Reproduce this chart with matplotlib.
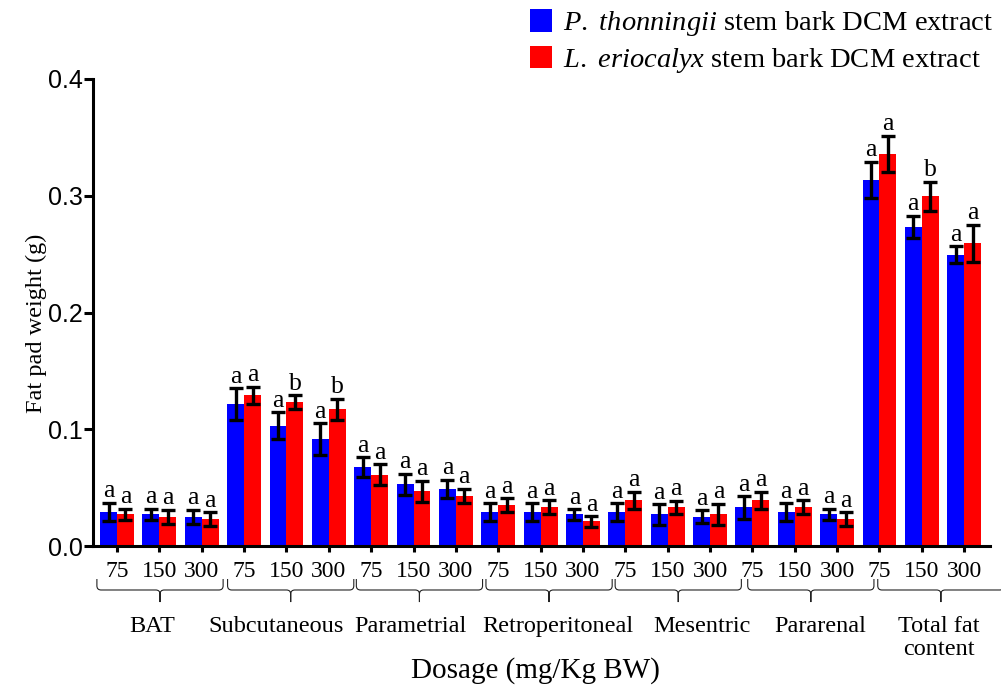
import matplotlib
matplotlib.use("Agg")
import matplotlib.pyplot as plt
import numpy as np
from matplotlib.path import Path
from matplotlib.patches import PathPatch
from matplotlib.transforms import blended_transform_factory

plt.rcParams["font.family"] = "serif"
plt.rcParams["font.serif"] = ["Liberation Serif", "DejaVu Serif"]
plt.rcParams["mathtext.fontset"] = "custom"
plt.rcParams["mathtext.rm"] = "Liberation Serif"
plt.rcParams["mathtext.it"] = "Liberation Serif:italic"

# ---- data -------------------------------------------------------------
tissues = ["BAT", "Subcutaneous", "Parametrial", "Retroperitoneal",
           "Mesentric", "Pararenal", "Total fat\ncontent"]
doses = ["75", "150", "300"]

pt_mean = [0.029, 0.027, 0.025,
           0.1216, 0.103, 0.0914,
           0.0674, 0.053, 0.049,
           0.029, 0.029, 0.027,
           0.029, 0.027, 0.025,
           0.033, 0.029, 0.027,
           0.3135, 0.2735, 0.2495]
pt_err = [0.008, 0.005, 0.006,
          0.0136, 0.0116, 0.0137,
          0.0086, 0.009, 0.0076,
          0.0076, 0.0076, 0.0046,
          0.0076, 0.0086, 0.0057,
          0.0097, 0.0077, 0.0047,
          0.0154, 0.0094, 0.0074]
le_mean = [0.027, 0.025, 0.023,
           0.129, 0.123, 0.117,
           0.061, 0.047, 0.043,
           0.035, 0.033, 0.021,
           0.039, 0.033, 0.027,
           0.039, 0.033, 0.0228,
           0.3358, 0.2995, 0.2593]
le_err = [0.005, 0.006, 0.006,
          0.0075, 0.006, 0.009,
          0.009, 0.009, 0.006,
          0.006, 0.006, 0.0043,
          0.0073, 0.0057, 0.009,
          0.0074, 0.006, 0.006,
          0.0154, 0.0127, 0.016]
pt_letters = ["a"] * 21
le_letters = ["a", "a", "a",
              "a", "b", "b",
              "a", "a", "a",
              "a", "a", "a",
              "a", "a", "a",
              "a", "a", "a",
              "a", "b", "a"]

series_labels = [r"$\mathit{P.}$ $\mathit{thonningii}$ stem bark DCM extract",
                 r"$\mathit{L.}$ $\mathit{eriocalyx}$ stem bark DCM extract"]
series_colors = ["#0000ff", "#ff0000"]

# ---- layout ------------------------------------------------------------
W, H = 1001, 685
fig = plt.figure(figsize=(W / 100, H / 100), dpi=100)
ax = fig.add_axes([93 / W, 1 - 546 / H, (990 - 93) / W, (546 - 79) / H])

x = np.arange(len(pt_mean))
bw = 0.4
b1 = ax.bar(x - bw / 2, pt_mean, bw, color=series_colors[0], linewidth=0,
            label=series_labels[0], zorder=2)
b2 = ax.bar(x + bw / 2, le_mean, bw, color=series_colors[1], linewidth=0,
            label=series_labels[1], zorder=2)
for xs, m, e in ((x - bw / 2, pt_mean, pt_err), (x + bw / 2, le_mean, le_err)):
    ax.errorbar(xs, m, yerr=e, fmt="none", ecolor="black", elinewidth=2.4,
                capsize=5, capthick=2.4, zorder=3)

# significance letters
for xs, m, e, lets in ((x - bw / 2, pt_mean, pt_err, pt_letters),
                       (x + bw / 2, le_mean, le_err, le_letters)):
    for xi, mi, ei, li in zip(xs, m, e, lets):
        ax.annotate(li, xy=(xi, mi + ei), xytext=(0, 4),
                    textcoords="offset points", ha="center", va="baseline",
                    fontsize=18.5)

ax.set_xlim(-0.567, 20.61)
ax.set_ylim(0, 0.4)
ax.set_yticks([0.0, 0.1, 0.2, 0.3, 0.4])
ax.set_yticklabels(["0.0", "0.1", "0.2", "0.3", "0.4"],
                   family="Liberation Sans", fontsize=18)
ax.set_xticks(x)
ax.set_xticklabels(doses * len(tissues), fontsize=17)
ax.tick_params(axis="y", length=6.5, width=2.2, pad=1)
ax.tick_params(axis="x", length=4.5, width=2.2, pad=6)
for s in ("top", "right"):
    ax.spines[s].set_visible(False)
for s in ("left", "bottom"):
    ax.spines[s].set_linewidth(2.2)

# group braces and tissue names below the dose labels
tr = blended_transform_factory(ax.transData, ax.transAxes)
brace_centres = [1.015, 4.10, 7.14, 10.20, 13.25, 16.38, 19.45]
name_centres = [0.82, 3.75, 6.93, 10.4, 13.8, 16.6, 19.4]
hw, rx, ry = 1.49, 0.1, 0.009
y_top, y_mid, y_bot = -0.0707, -0.0942, -0.12
for xc in brace_centres:
    verts, codes = [], []
    for side in (-1, 1):
        xe = xc + side * hw
        verts += [(xe, y_top), (xe, y_mid + ry), (xe, y_mid),
                  (xe - side * rx, y_mid), (xc + side * rx, y_mid),
                  (xc, y_mid), (xc, y_mid - ry), (xc, y_bot)]
        codes += [Path.MOVETO, Path.LINETO, Path.CURVE3, Path.CURVE3,
                  Path.LINETO, Path.CURVE3, Path.CURVE3, Path.LINETO]
    ax.add_patch(PathPatch(Path(verts, codes), transform=tr, fill=False,
                           lw=0.8, edgecolor="#222222", clip_on=False))
for xc, name in zip(name_centres, tissues):
    ax.text(xc, -0.150, name, transform=tr, ha="center", va="top",
            fontsize=17.5, linespacing=1.1)

fig.text(535.5 / W, 7.5 / H, "Dosage (mg/Kg BW)", ha="center",
         va="baseline", fontsize=21)
fig.text(36 / W, 1 - 323.5 / H, "Fat pad weight (g)", rotation=90,
         ha="center", va="center", fontsize=17.5)

fig.legend(handles=[b1, b2], loc="upper left",
           bbox_to_anchor=(530 / W, 1 - 9 / H), frameon=False,
           fontsize=20.5, borderpad=0, borderaxespad=0,
           handlelength=0.77, handleheight=0.84, handletextpad=0.4,
           labelspacing=0.27)

fig.savefig("out.png", dpi=100)
